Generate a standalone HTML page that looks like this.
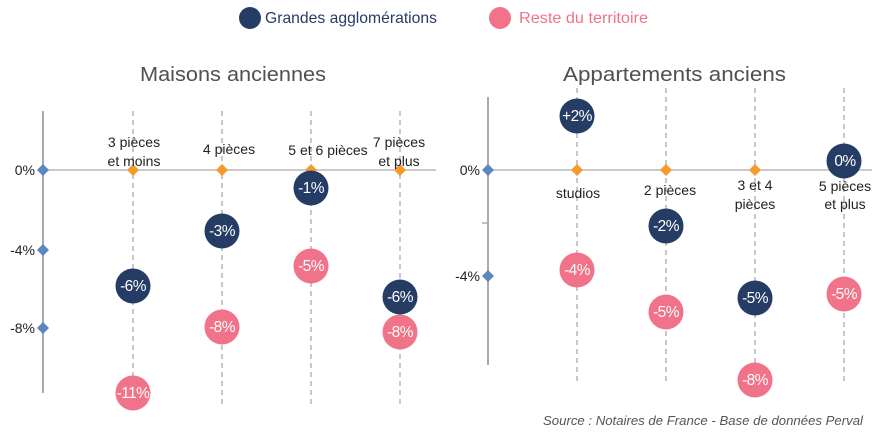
<!DOCTYPE html>
<html><head><meta charset="utf-8"><style>
html,body{margin:0;padding:0;background:#fff;}
svg{display:block;}
text{font-family:"Liberation Sans",Arial,sans-serif;}
.cat{font-size:14px;fill:#222;text-anchor:middle;}
.yl{font-size:14px;fill:#222;text-anchor:end;}
.v{font-size:15.5px;fill:#fff;text-anchor:middle;letter-spacing:-0.6px;}
</style></head><body>
<svg width="881" height="433" viewBox="0 0 881 433" xmlns="http://www.w3.org/2000/svg">
<!-- Legend -->
<circle cx="250" cy="18" r="11" fill="#253c65"/>
<text x="265" y="23" font-size="16" fill="#253c65" textLength="172" lengthAdjust="spacingAndGlyphs">Grandes agglomérations</text>
<circle cx="500" cy="18" r="11" fill="#f07389"/>
<text x="519" y="23" font-size="16" fill="#f07389" textLength="129" lengthAdjust="spacingAndGlyphs">Reste du territoire</text>

<!-- Titles -->
<text x="140" y="81" font-size="20" fill="#505050" textLength="186" lengthAdjust="spacingAndGlyphs">Maisons anciennes</text>
<text x="563" y="81" font-size="20" fill="#505050" textLength="223" lengthAdjust="spacingAndGlyphs">Appartements anciens</text>

<!-- LEFT CHART -->
<g stroke="#c8c8c8" stroke-width="2" stroke-dasharray="5,4">
<line x1="133" y1="111" x2="133" y2="407"/>
<line x1="222" y1="111" x2="222" y2="407"/>
<line x1="311" y1="111" x2="311" y2="407"/>
<line x1="400" y1="111" x2="400" y2="407"/>
</g>
<line x1="43" y1="170" x2="436" y2="170" stroke="#aaa" stroke-width="1.2"/>
<line x1="43" y1="111" x2="43" y2="393" stroke="#aaa" stroke-width="2"/>
<g fill="#5b86c0">
<path d="M43 164 L49 170 L43 176 L37 170Z"/>
<path d="M43 244 L49 250 L43 256 L37 250Z"/>
<path d="M43 322 L49 328 L43 334 L37 328Z"/>
</g>
<text class="yl" x="35" y="175">0%</text>
<text class="yl" x="35" y="255">-4%</text>
<text class="yl" x="35" y="333">-8%</text>
<g fill="#f59a2c">
<path d="M133 164 L139 170 L133 176 L127 170Z"/>
<path d="M222 164 L228 170 L222 176 L216 170Z"/>
<path d="M311 164 L317 170 L311 176 L305 170Z"/>
<path d="M400 164 L406 170 L400 176 L394 170Z"/>
</g>
<text class="cat" x="134" y="147">3 pièces</text>
<text class="cat" x="134" y="166">et moins</text>
<text class="cat" x="229" y="154">4 pièces</text>
<text class="cat" x="328" y="155">5 et 6 pièces</text>
<text class="cat" x="399" y="147">7 pièces</text>
<text class="cat" x="399" y="166">et plus</text>

<circle cx="133" cy="286" r="17.5" fill="#253c65"/><text class="v" x="133" y="291">-6%</text>
<circle cx="133" cy="393" r="17.5" fill="#f07389"/><text class="v" x="133" y="398">-11%</text>
<circle cx="222" cy="231" r="17.5" fill="#253c65"/><text class="v" x="222" y="236">-3%</text>
<circle cx="222" cy="327" r="17.5" fill="#f07389"/><text class="v" x="222" y="332">-8%</text>
<circle cx="311" cy="188" r="17.5" fill="#253c65"/><text class="v" x="311" y="193">-1%</text>
<circle cx="311" cy="266" r="17.5" fill="#f07389"/><text class="v" x="311" y="271">-5%</text>
<circle cx="400" cy="297" r="17.5" fill="#253c65"/><text class="v" x="400" y="302">-6%</text>
<circle cx="400" cy="332" r="17.5" fill="#f07389"/><text class="v" x="400" y="337">-8%</text>

<!-- RIGHT CHART -->
<g stroke="#c8c8c8" stroke-width="2" stroke-dasharray="5,4">
<line x1="577" y1="88" x2="577" y2="382"/>
<line x1="666" y1="88" x2="666" y2="382"/>
<line x1="755" y1="88" x2="755" y2="382"/>
<line x1="844" y1="88" x2="844" y2="382"/>
</g>
<line x1="488" y1="170" x2="872" y2="170" stroke="#aaa" stroke-width="1.2"/>
<line x1="488" y1="97" x2="488" y2="365" stroke="#aaa" stroke-width="2"/>
<line x1="482" y1="223" x2="488" y2="223" stroke="#aaa" stroke-width="1.5"/>
<g fill="#5b86c0">
<path d="M488 164 L494 170 L488 176 L482 170Z"/>
<path d="M488 270 L494 276 L488 282 L482 276Z"/>
</g>
<text class="yl" x="480" y="175">0%</text>
<text class="yl" x="480" y="281">-4%</text>
<g fill="#f59a2c">
<path d="M577 164 L583 170 L577 176 L571 170Z"/>
<path d="M666 164 L672 170 L666 176 L660 170Z"/>
<path d="M755 164 L761 170 L755 176 L749 170Z"/>
</g>
<text class="cat" x="578" y="198">studios</text>
<text class="cat" x="670" y="195">2 pièces</text>
<text class="cat" x="755" y="190">3 et 4</text>
<text class="cat" x="755" y="209">pièces</text>
<text class="cat" x="845" y="191">5 pièces</text>
<text class="cat" x="845" y="209">et plus</text>

<circle cx="577" cy="116" r="17.5" fill="#253c65"/><text class="v" x="577" y="121">+2%</text>
<circle cx="577" cy="270" r="17.5" fill="#f07389"/><text class="v" x="577" y="275">-4%</text>
<circle cx="666" cy="226" r="17.5" fill="#253c65"/><text class="v" x="666" y="231">-2%</text>
<circle cx="666" cy="312" r="17.5" fill="#f07389"/><text class="v" x="666" y="317">-5%</text>
<circle cx="755" cy="298" r="17.5" fill="#253c65"/><text class="v" x="755" y="303">-5%</text>
<circle cx="755" cy="380" r="17.5" fill="#f07389"/><text class="v" x="755" y="385">-8%</text>
<circle cx="844" cy="161" r="17.5" fill="#253c65"/><text class="v" x="845" y="166">0%</text>
<circle cx="844" cy="294" r="17.5" fill="#f07389"/><text class="v" x="844" y="299">-5%</text>

<!-- Source -->
<text x="543" y="425" font-size="13" font-style="italic" fill="#555" textLength="320" lengthAdjust="spacingAndGlyphs">Source : Notaires de France - Base de données Perval</text>
</svg>
</body></html>
